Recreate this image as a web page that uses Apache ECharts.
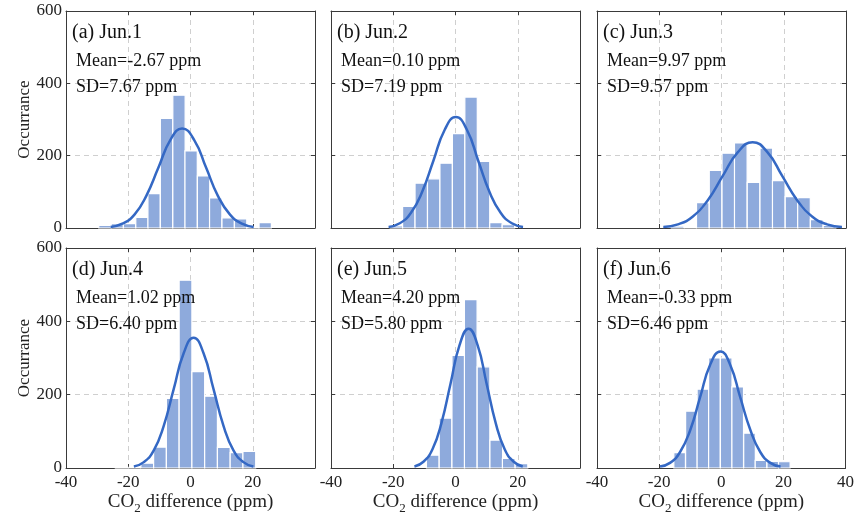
<!DOCTYPE html>
<html>
<head>
<meta charset="utf-8">
<script src="https://cdn.jsdelivr.net/npm/echarts@6/dist/echarts.min.js"></script>
<style>html,body{margin:0;padding:0;background:#fff}#c{width:857px;height:523px}</style>
</head>
<body>
<div id="c"></div>
<script>
// ---- data ----
const panelTitles = ['(a) Jun.1', '(b) Jun.2', '(c) Jun.3', '(d) Jun.4', '(e) Jun.5', '(f) Jun.6'];
const meanLabels = ['Mean=-2.67 ppm', 'Mean=0.10 ppm', 'Mean=9.97 ppm', 'Mean=1.02 ppm', 'Mean=4.20 ppm', 'Mean=-0.33 ppm'];
const sdLabels = ['SD=7.67 ppm', 'SD=7.19 ppm', 'SD=9.57 ppm', 'SD=6.40 ppm', 'SD=5.80 ppm', 'SD=6.46 ppm'];

const xTicks = [-40, -20, 0, 20, 40];
const yTicks = [0, 200, 400, 600];

// histogram bin widths (ppm)
const binWidthA = 3.96, binWidthB = 4.0, binWidthC = 4.06, binWidthD = 4.1, binWidthE = 4.07, binWidthF = 3.74;
// histogram bin centres (ppm)
const binCentersA = [-27.5, -23.5, -19.6, -15.6, -11.7, -7.7, -3.7, 0.2, 4.2, 8.1, 12.1, 16.1, 20.0, 24.0];
const binCentersB = [-19.0, -15.0, -11.0, -7.0, -3.0, 1.0, 5.0, 9.0, 13.0, 17.0];
const binCentersC = [-14.1, -10.0, -6.0, -1.9, 2.2, 6.2, 10.3, 14.4, 18.4, 22.5, 26.5, 30.6, 34.7];
const binCentersD = [-22.1, -18.0, -13.9, -9.8, -5.7, -1.6, 2.5, 6.6, 10.7, 14.8, 18.9];
const binCentersE = [-7.3, -3.2, 0.9, 4.9, 9.0, 13.1, 17.1, 21.2];
const binCentersF = [-13.4, -9.6, -5.9, -2.2, 1.6, 5.3, 9.1, 12.8, 16.6, 20.3];
// histogram counts
const countsA = [7, 12, 12, 29, 95, 303, 367, 213, 144, 83, 28, 25, 3, 15];
const countsB = [6, 60, 124, 136, 179, 261, 362, 184, 15, 9];
const countsC = [5, 0, 70, 159, 207, 235, 126, 221, 131, 87, 84, 23, 7];
const countsD = [2, 0, 13, 57, 190, 512, 263, 196, 56, 42, 45];
const countsE = [35, 136, 307, 459, 276, 76, 26, 12];
const countsF = [42, 155, 215, 300, 300, 221, 95, 21, 18, 17];

// fitted curves
const curveXA = [-25.7, -21.9, -18.0, -14.2, -10.3, -6.5, -2.7, 1.2, 5.0, 8.8, 12.7, 16.5, 20.3];
const curveYA = [3, 12, 37, 89, 167, 243, 275, 243, 167, 89, 37, 12, 3];
const curveXB = [-21.5, -17.9, -14.3, -10.7, -7.1, -3.5, 0.1, 3.7, 7.3, 10.9, 14.5, 18.1, 21.7];
const curveYB = [3, 13, 42, 100, 186, 271, 307, 271, 186, 100, 42, 13, 3];
const curveXC = [-18.7, -14.0, -9.2, -4.4, 0.4, 5.2, 10.0, 14.8, 19.5, 24.3, 29.1, 33.9, 38.7];
const curveYC = [3, 10, 32, 77, 144, 209, 237, 209, 144, 77, 32, 10, 3];
const curveXD = [-18.2, -15.0, -11.8, -8.6, -5.4, -2.2, 1.0, 4.2, 7.4, 10.6, 13.8, 17.0, 20.2];
const curveYD = [4, 16, 48, 115, 215, 313, 355, 313, 215, 115, 48, 16, 4];
const curveXE = [-13.2, -10.3, -7.4, -4.5, -1.6, 1.3, 4.2, 7.1, 10.0, 12.9, 15.8, 18.7, 21.6];
const curveYE = [4, 17, 51, 123, 230, 335, 380, 335, 230, 123, 51, 17, 4];
const curveXF = [-19.7, -16.5, -13.3, -10.0, -6.8, -3.6, -0.3, 2.9, 6.1, 9.4, 12.6, 15.8, 19.1];
const curveYF = [4, 14, 43, 103, 193, 281, 318, 281, 193, 103, 43, 14, 4];

const binWidths = [binWidthA, binWidthB, binWidthC, binWidthD, binWidthE, binWidthF];
const binCenters = [binCentersA, binCentersB, binCentersC, binCentersD, binCentersE, binCentersF];
const counts = [countsA, countsB, countsC, countsD, countsE, countsF];
const curveX = [curveXA, curveXB, curveXC, curveXD, curveXE, curveXF];
const curveY = [curveYA, curveYB, curveYC, curveYD, curveYE, curveYF];

// ---- layout / style ----
const FONT = "'Liberation Serif', 'Times New Roman', serif";
const BAR = '#8eaadc';
const LINE = '#3468c4';
const AX = '#3a3a3a';
const gridLefts = [66, 331, 597];
const gridTops = [11, 248];
const gridW = 249, gridHs = [217, 220];

const grids = [], xAxes = [], yAxes = [], series = [], graphics = [];
for (let i = 0; i < 6; i++) {
  const col = i % 3, row = Math.floor(i / 3);
  const left = gridLefts[col], top = gridTops[row];
  grids.push({left: left, top: top, width: gridW, height: gridHs[row], containLabel: false});
  const bottomRow = row === 1;
  xAxes.push({
    type: 'value', gridIndex: i, min: xTicks[0], max: xTicks[xTicks.length - 1], interval: 20,
    position: 'bottom',
    axisLine: {show: true, onZero: false, lineStyle: {color: AX, width: 1}},
    axisTick: {show: true, inside: true, length: 4, lineStyle: {color: AX}},
    axisLabel: {show: bottomRow, fontFamily: FONT, fontSize: 17, color: '#222', margin: 6,
      showMaxLabel: i === 5, showMinLabel: true},
    splitLine: {show: true, lineStyle: {color: '#cfcfcf', type: [5, 4], width: 1}},
    name: bottomRow ? '{a|CO}{s|2}{a| difference (ppm)}' : '',
    nameLocation: 'middle', nameGap: 22,
    nameTextStyle: {fontFamily: FONT, color: '#222', rich: {
      a: {fontFamily: FONT, fontSize: 19, color: '#222'},
      s: {fontFamily: FONT, fontSize: 13, color: '#222', padding: [12, 0, 0, 0]}
    }}
  });
  yAxes.push({
    type: 'value', gridIndex: i, min: yTicks[0], max: yTicks[yTicks.length - 1], interval: 200,
    position: 'left',
    axisLine: {show: true, onZero: false, lineStyle: {color: AX, width: 1}},
    axisTick: {show: true, inside: true, length: 4, lineStyle: {color: AX}},
    axisLabel: {show: col === 0, fontFamily: FONT, fontSize: 17, color: '#222', margin: 4},
    splitLine: {show: true, lineStyle: {color: '#cfcfcf', type: [5, 4], width: 1}},
    name: col === 0 ? 'Occurrance' : '', nameLocation: 'middle', nameGap: 26, nameRotate: 90,
    nameTextStyle: {fontFamily: FONT, fontSize: 17, color: '#222'}
  });
  series.push({
    type: 'custom', xAxisIndex: i, yAxisIndex: i, z: 2,
    data: binCenters[i].map((c, k) => [c - binWidths[i] / 2, c + binWidths[i] / 2, counts[i][k]]),
    encode: {x: [0, 1], y: 2},
    renderItem: function (params, api) {
      const p0 = api.coord([api.value(0), api.value(2)]);
      const p1 = api.coord([api.value(1), 0]);
      return {type: 'rect', shape: {x: p0[0], y: p0[1], width: p1[0] - p0[0], height: p1[1] - p0[1]},
        style: {fill: BAR, stroke: '#ffffff', lineWidth: 1.2}};
    }
  });
  series.push({
    type: 'line', xAxisIndex: i, yAxisIndex: i, z: 5, smooth: true, showSymbol: false,
    lineStyle: {color: LINE, width: 2.5},
    data: curveX[i].map((x, k) => [x, curveY[i][k]])
  });
  const ty = row === 0 ? 0 : 237;
  graphics.push({type: 'text', x: left + 6, y: 33 + ty, style: {text: panelTitles[i], font: '20px ' + FONT, fill: '#111', verticalAlign: 'middle'}, z: 10});
  graphics.push({type: 'text', x: left + 10, y: 61 + ty, style: {text: meanLabels[i], font: '18px ' + FONT, fill: '#111', verticalAlign: 'middle'}, z: 10});
  graphics.push({type: 'text', x: left + 10, y: 87 + ty, style: {text: sdLabels[i], font: '18px ' + FONT, fill: '#111', verticalAlign: 'middle'}, z: 10});
}
// frame axes (top and right) with inward ticks
for (let i = 0; i < 6; i++) {
  xAxes.push({type: 'value', gridIndex: i, min: xTicks[0], max: xTicks[xTicks.length - 1], interval: 20, position: 'top',
    axisLine: {show: true, onZero: false, lineStyle: {color: AX, width: 1}},
    axisTick: {show: true, inside: true, length: 4, lineStyle: {color: AX}},
    axisLabel: {show: false}, splitLine: {show: false}});
  yAxes.push({type: 'value', gridIndex: i, min: yTicks[0], max: yTicks[yTicks.length - 1], interval: 200, position: 'right',
    axisLine: {show: true, onZero: false, lineStyle: {color: AX, width: 1}},
    axisTick: {show: true, inside: true, length: 4, lineStyle: {color: AX}},
    axisLabel: {show: false}, splitLine: {show: false}});
}

const chart = echarts.init(document.getElementById('c'), null, {renderer: 'canvas'});
chart.setOption({
  animation: false,
  backgroundColor: '#ffffff',
  grid: grids, xAxis: xAxes, yAxis: yAxes, series: series, graphic: graphics
});
</script>
</body>
</html>
